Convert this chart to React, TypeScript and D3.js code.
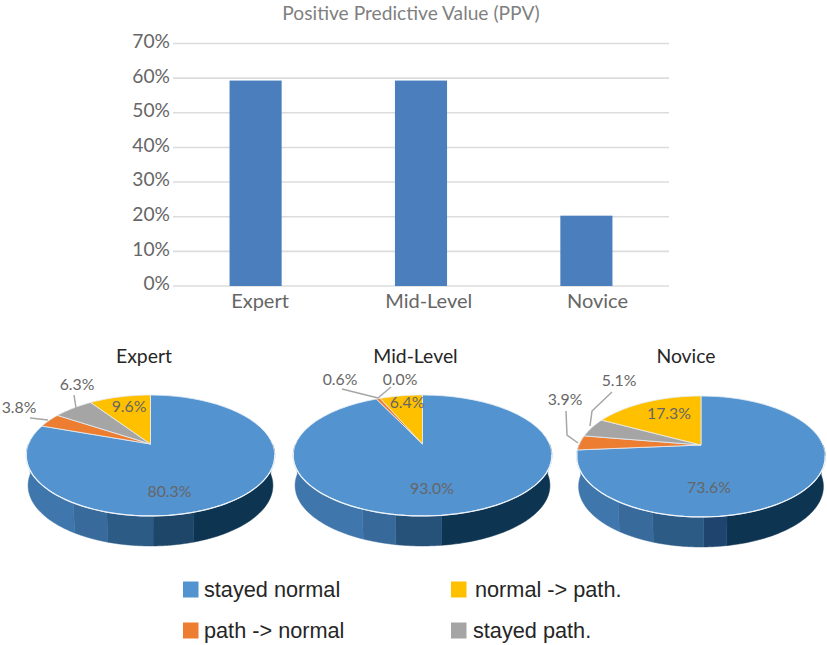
import React from "react";
import * as d3 from "d3";

const levels = ["Expert", "Mid-Level", "Novice"];
const ppvValues = [59.3, 59.3, 20.3];
const ppvTicks = [0, 10, 20, 30, 40, 50, 60, 70];

const outcomes = ["stayed normal", "path -> normal", "stayed path.", "normal -> path."];
const outcomeColors = ["#5393d0", "#ed7d31", "#a5a5a5", "#ffc000"];
const expertShares = [80.3, 3.8, 6.3, 9.6];
const midShares = [93.0, 0.6, 0.0, 6.4];
const noviceShares = [73.6, 3.9, 5.1, 17.3];
const shares = [expertShares, midShares, noviceShares];

// front wall facets, degrees clockwise from 12 o'clock
const wallBreaks = [
  [163, 179, 197, 212],
  [173, 190, 203],
  [170, 179, 199, 215],
];
const wallColors = [
  ["#0d3451", "#1d4669", "#2c5b86", "#386b9c", "#3f76ac"],
  ["#0d3451", "#26527a", "#376a9b", "#3f76ac"],
  ["#0d3451", "#1f456f", "#2c5b86", "#386b9c", "#3f76ac"],
];

const pies = [
  { cx: 150.5, cy: 444, rx: 122, titleX: 144, labels: [[169.5, 492.5], [19, 409], [77, 386], [129, 407.5]], leaders: [[], [[48, 420], [30, 418]], [[76, 408], [74, 395]], []] },
  { cx: 422.5, cy: 444, rx: 127, titleX: 415.5, labels: [[432, 489.5], [340, 381], [400, 381], [407, 404]], leaders: [[], [[378, 398], [342, 389]], [[378, 398], [391, 387]], []] },
  { cx: 701, cy: 445, rx: 122, titleX: 686, labels: [[709, 489], [565, 401], [619, 381.5], [669, 415]], leaders: [[], [[578, 443], [567, 435], [566, 411]], [[590, 426], [592, 411], [612, 392]], []] },
];

const tilt = 0.19;
const ry = 58.3;
const depth = 30;
const legendRows = [
  [0, 183, 204, 591],
  [3, 451, 475, 591],
  [1, 183, 204, 632],
  [2, 451, 473, 632],
];

const sans = "Lato, sans-serif";
const grey = "#666666";

const margin = { top: 43.5, left: 173, right: 158, bottom: 359 };
const width = 827;
const height = 645;

// disc angle -> screen point, with the far side of the pie foreshortened
function project(p: (typeof pies)[number], deg: number, scale = 1, drop = 0): [number, number] {
  const a = (deg * Math.PI) / 180;
  const u = Math.sin(a);
  const v = Math.cos(a);
  const w = 1 + tilt * v;
  return [p.cx + (scale * p.rx * u) / w, p.cy - (ry * v) / w + drop];
}

const line = d3.line();

function arcPoints(p: (typeof pies)[number], from: number, to: number, scale = 1, drop = 0) {
  return d3.range(0, 61).map((i) => project(p, from + ((to - from) * i) / 60, scale, drop));
}

function Pie({ index }: { index: number }) {
  const p = pies[index];
  const slices = d3
    .pie<number>()
    .sort(null)
    .value((d) => d)(shares[index]);
  const breaks = [90, ...wallBreaks[index], 270];
  return (
    <g>
      {wallColors[index].map((c, i) => {
        const top = arcPoints(p, breaks[i], breaks[i + 1]);
        const bottom = arcPoints(p, breaks[i], breaks[i + 1], 0.985, depth).reverse();
        return <path key={i} d={line([...top, ...bottom]) + "Z"} fill={c} stroke={c} strokeWidth={0.5} />;
      })}
      {slices.map((s, i) => {
        if (s.value === 0) return null;
        const from = (s.startAngle * 180) / Math.PI;
        const to = (s.endAngle * 180) / Math.PI;
        const pts = [[p.cx, p.cy] as [number, number], ...arcPoints(p, from, to)];
        return (
          <path
            key={i}
            d={line(pts) + "Z"}
            fill={outcomeColors[i]}
            stroke="#e4edf5"
            strokeWidth={0.8}
            strokeLinejoin="round"
          />
        );
      })}
      <path d={line(arcPoints(p, 100, 262)) as string} fill="none" stroke="#eef4f9" strokeWidth={1.2} />
      {p.leaders.map((pts, i) =>
        pts.length ? <path key={i} d={line(pts as [number, number][]) as string} fill="none" stroke="#a6a6a6" strokeWidth={1.5} /> : null
      )}
      {p.labels.map((l, i) => (
        <text
          key={i}
          x={l[0]}
          y={l[1]}
          textAnchor="middle"
          dominantBaseline="middle"
          fontFamily={sans}
          fontSize={15.8}
          fill={grey}
        >
          {shares[index][i].toFixed(1)}%
        </text>
      ))}
      <text x={p.titleX} y={358} textAnchor="middle" dominantBaseline="middle" fontFamily={sans} fontSize={19.4} fill="#262626">
        {levels[index]}
      </text>
    </g>
  );
}

export default function App() {
  const x = d3
    .scaleBand<string>()
    .domain(levels)
    .range([margin.left, width - margin.right])
    .paddingInner(0.685)
    .paddingOuter(0.342);
  // category labels sit a little right of their bars in the source
  const xLabel = d3.scalePoint<string>().domain(levels).range([260, 597.5]);
  const y = d3
    .scaleLinear()
    .domain([0, 70])
    .range([height - margin.bottom, margin.top]);

  return (
    <svg
      width={width}
      height={height}
      viewBox={`0 0 ${width} ${height}`}
      style={{ position: "absolute", left: 0, top: 0, background: "#fff" }}
    >
      <text x={411} y={19.5} textAnchor="middle" fontFamily={sans} fontSize={19.2} fill="#7f7f7f">
        Positive Predictive Value (PPV)
      </text>
      {ppvTicks.map((t) => (
        <g key={t}>
          <line x1={margin.left} x2={width - margin.right} y1={y(t)} y2={y(t)} stroke="#dcdcdc" strokeWidth={1.6} />
          <text x={170} y={y(t) - 0.5} textAnchor="end" dominantBaseline="middle" fontFamily={sans} fontSize={19.2} fill={grey}>
            {t}%
          </text>
        </g>
      ))}
      {levels.map((l, i) => (
        <g key={l}>
          <rect x={x(l)} y={y(ppvValues[i])} width={x.bandwidth()} height={y(0) - y(ppvValues[i])} fill="#4a7ebd" />
          <text
            x={xLabel(l)}
            y={303}
            textAnchor="middle"
            dominantBaseline="middle"
            fontFamily={sans}
            fontSize={20}
            fill={grey}
          >
            {l}
          </text>
        </g>
      ))}
      {levels.map((l, i) => (
        <Pie key={l} index={i} />
      ))}
      {legendRows.map(([k, sx, tx, ly]) => (
        <g key={k}>
          <rect x={sx} y={ly - 9.5} width={15.5} height={16} fill={outcomeColors[k]} />
          <text x={tx} y={ly} dominantBaseline="middle" fontFamily="Liberation Sans, Arial, sans-serif" fontSize={21.7} fill="#262626">
            {outcomes[k]}
          </text>
        </g>
      ))}
    </svg>
  );
}
